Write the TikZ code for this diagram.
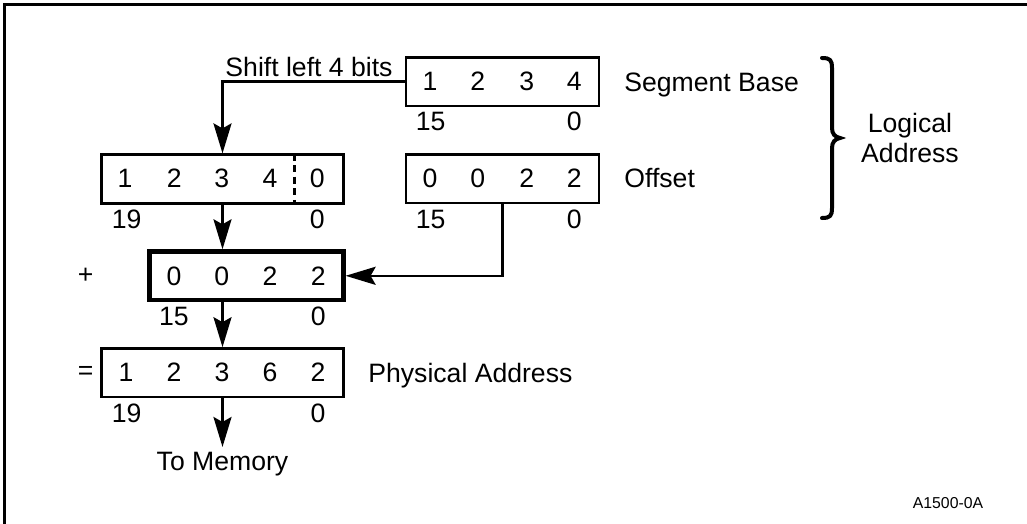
\documentclass[tikz,border=0pt]{standalone}
\usepackage{fontspec}
\setmainfont{Liberation Sans}
\usetikzlibrary{arrows.meta}
\begin{document}
\begin{tikzpicture}[x=0.5pt,y=-0.5pt,
  every node/.style={font=\fontsize{13.3}{15}\selectfont, inner sep=0pt},
  reg/.style={draw, line width=1.3pt, rectangle, minimum height=24.3pt},
  thickreg/.style={draw, line width=2.3pt, rectangle, minimum height=24.2pt},
  conn/.style={line width=1.3pt},
  arr/.style={line width=1.3pt, -{Stealth[length=15pt,width=9pt,inset=2.5pt]}},
  lbl/.style={anchor=base west},
  small/.style={font=\fontsize{7.9}{9}\selectfont}]
\useasboundingbox (0,0) rectangle (1027,524);
% outer frame (only top and left sides visible)
\draw[line width=1.5pt] (4.5,524) -- (4.5,5) -- (1027,5);

% Segment base register
\node[reg, minimum width=96.5pt] (seg) at (502.5,81.6) {};
\node (seg1) at (430,81.7) {1};
\node (seg2) at (477.7,81.7) {2};
\node (seg3) at (526.7,81.7) {3};
\node (seg4) at (574.3,81.7) {4};
\node (seghi) at (430.7,121.7) {15};
\node (seglo) at (574.3,121.7) {0};
\node[lbl] (segname) at (624,91) {Segment Base};

% Offset register
\node[reg, minimum width=96.5pt] (off) at (502.5,178.7) {};
\node (off1) at (430,178.3) {0};
\node (off2) at (477.7,178.3) {0};
\node (off3) at (526.7,178.3) {2};
\node (off4) at (574.3,178.3) {2};
\node (offhi) at (430.7,219) {15};
\node (offlo) at (574.3,219) {0};
\node[lbl] (offname) at (624,187.6) {Offset};

% Shifted segment
\node[reg, minimum width=120.8pt] (sh) at (222.5,179) {};
\draw[line width=1.3pt, dash pattern=on 3.6pt off 2.2pt] (294.3,0 |- sh.north) -- (294.3,0 |- sh.south);
\node (sh1) at (125,178.3) {1};
\node (sh2) at (174.3,178.3) {2};
\node (sh3) at (221.7,178.3) {3};
\node (sh4) at (270,178.3) {4};
\node (sh5) at (317.3,178.3) {0};
\node (shhi) at (126.7,219) {19};
\node (shlo) at (317.3,219) {0};

% Offset added (thick)
\node[thickreg, minimum width=97pt] (add) at (246.3,275.8) {};
\node (add1) at (174,276) {0};
\node (add2) at (221.7,276) {0};
\node (add3) at (270,276) {2};
\node (add4) at (318.3,276) {2};
\node (addhi) at (174,316.7) {15};
\node (addlo) at (318.3,316.7) {0};
\node (plus) at (85.7,276) {+};

% Result
\node[reg, minimum width=120.8pt] (res) at (222.5,372.8) {};
\node (res1) at (126,372.7) {1};
\node (res2) at (174,372.7) {2};
\node (res3) at (222,372.7) {3};
\node (res4) at (270,372.7) {6};
\node (res5) at (318,372.7) {2};
\node (reshi) at (126.7,413.3) {19};
\node (reslo) at (318,413.3) {0};
\node (eq) at (85.7,372.7) {=};
\node[lbl] (resname) at (368,382) {Physical Address};

\node[anchor=north, inner ysep=2.6pt] (mem) at (222.5,447) {To Memory};

% connectors
\node[anchor=base] (shiftlbl) at (309,76) {Shift left 4 bits};
\draw[arr] (seg.west) -| (sh.north);
\draw[arr] (sh.south) -- (sh.south |- add.north);
\draw[arr] (sh.south |- add.south) -- (res.north);
\draw[arr] (res.south) -- (mem.north);
\draw[arr] (off.south) |- (add.east);

% brace
\draw[line width=2pt, line cap=round]
  (822,58) .. controls (830,58) and (832,60) .. (832,68) -- (832,128)
  .. controls (832,134) and (835,137) .. (840,138)
  .. controls (835,139) and (832,142) .. (832,148) -- (832,208)
  .. controls (832,216) and (830,218) .. (822,218);
\node[align=center] (logical) at (910,138) {Logical\\Address};

\node[small] (fig) at (948,502.7) {A1500-0A};
\end{tikzpicture}
\end{document}
